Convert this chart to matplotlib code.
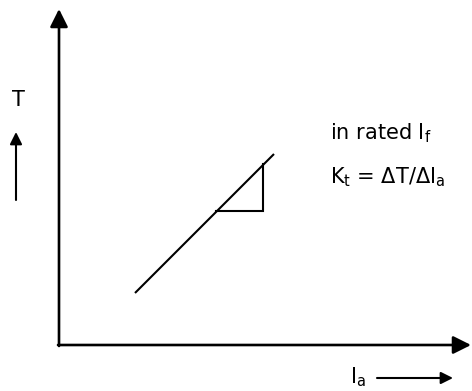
import matplotlib
matplotlib.use('Agg')
import matplotlib.pyplot as plt

# torque vs armature current sketch, drawn in pixel units
W, H = 472, 391

origin = (59, 345)
y_axis_top = 9
x_axis_right = 471

# straight T-Ia characteristic
line_x = [135, 274]
line_y = [293, 154]

# slope triangle (dT over dIa)
tri_x = [216, 263, 263]
tri_y = [211, 211, 164]

# small direction arrows next to the axis names
t_arrow_x = 16
t_arrow_y = [200, 132]
ia_arrow_x = [377, 453]
ia_arrow_y = 378

label_T = 'T'
label_Ia = r'I$_\mathrm{a}$'
label_rated = r'in rated I$_\mathrm{f}$'
label_kt = r'K$_\mathrm{t}$ = ΔT/ΔI$_\mathrm{a}$'

fig = plt.figure(figsize=(W / 100, H / 100), dpi=100)
ax = fig.add_axes([0, 0, 1, 1])
ax.set_xlim(0, W)
ax.set_ylim(H, 0)
ax.axis('off')


def arrow(x0, y0, x1, y1, lw, size):
    ax.annotate('', xy=(x1, y1), xytext=(x0, y0),
                arrowprops=dict(arrowstyle='-|>,head_length=0.6,head_width=0.3',
                                mutation_scale=size, lw=lw, color='black',
                                shrinkA=0, shrinkB=0))


# axes
arrow(origin[0], origin[1] + 1, origin[0], y_axis_top, 1.9, 18)
arrow(origin[0] - 1, origin[1], x_axis_right, origin[1], 1.9, 18)

ax.plot(line_x, line_y, color='black', lw=1.5, solid_capstyle='butt')
ax.plot(tri_x, tri_y, color='black', lw=1.5, solid_joinstyle='miter')

arrow(t_arrow_x, t_arrow_y[0], t_arrow_x, t_arrow_y[1], 1.5, 12)
arrow(ia_arrow_x[0], ia_arrow_y, ia_arrow_x[1], ia_arrow_y, 1.5, 12)

fs = 15
ax.text(18, 106, label_T, fontsize=fs, ha='center', va='baseline')
ax.text(350, 383, label_Ia, fontsize=fs, ha='left', va='baseline')
ax.text(330, 139, label_rated, fontsize=fs, ha='left', va='baseline')
ax.text(330, 183, label_kt, fontsize=fs, ha='left', va='baseline')

fig.savefig('out.png', dpi=100)
